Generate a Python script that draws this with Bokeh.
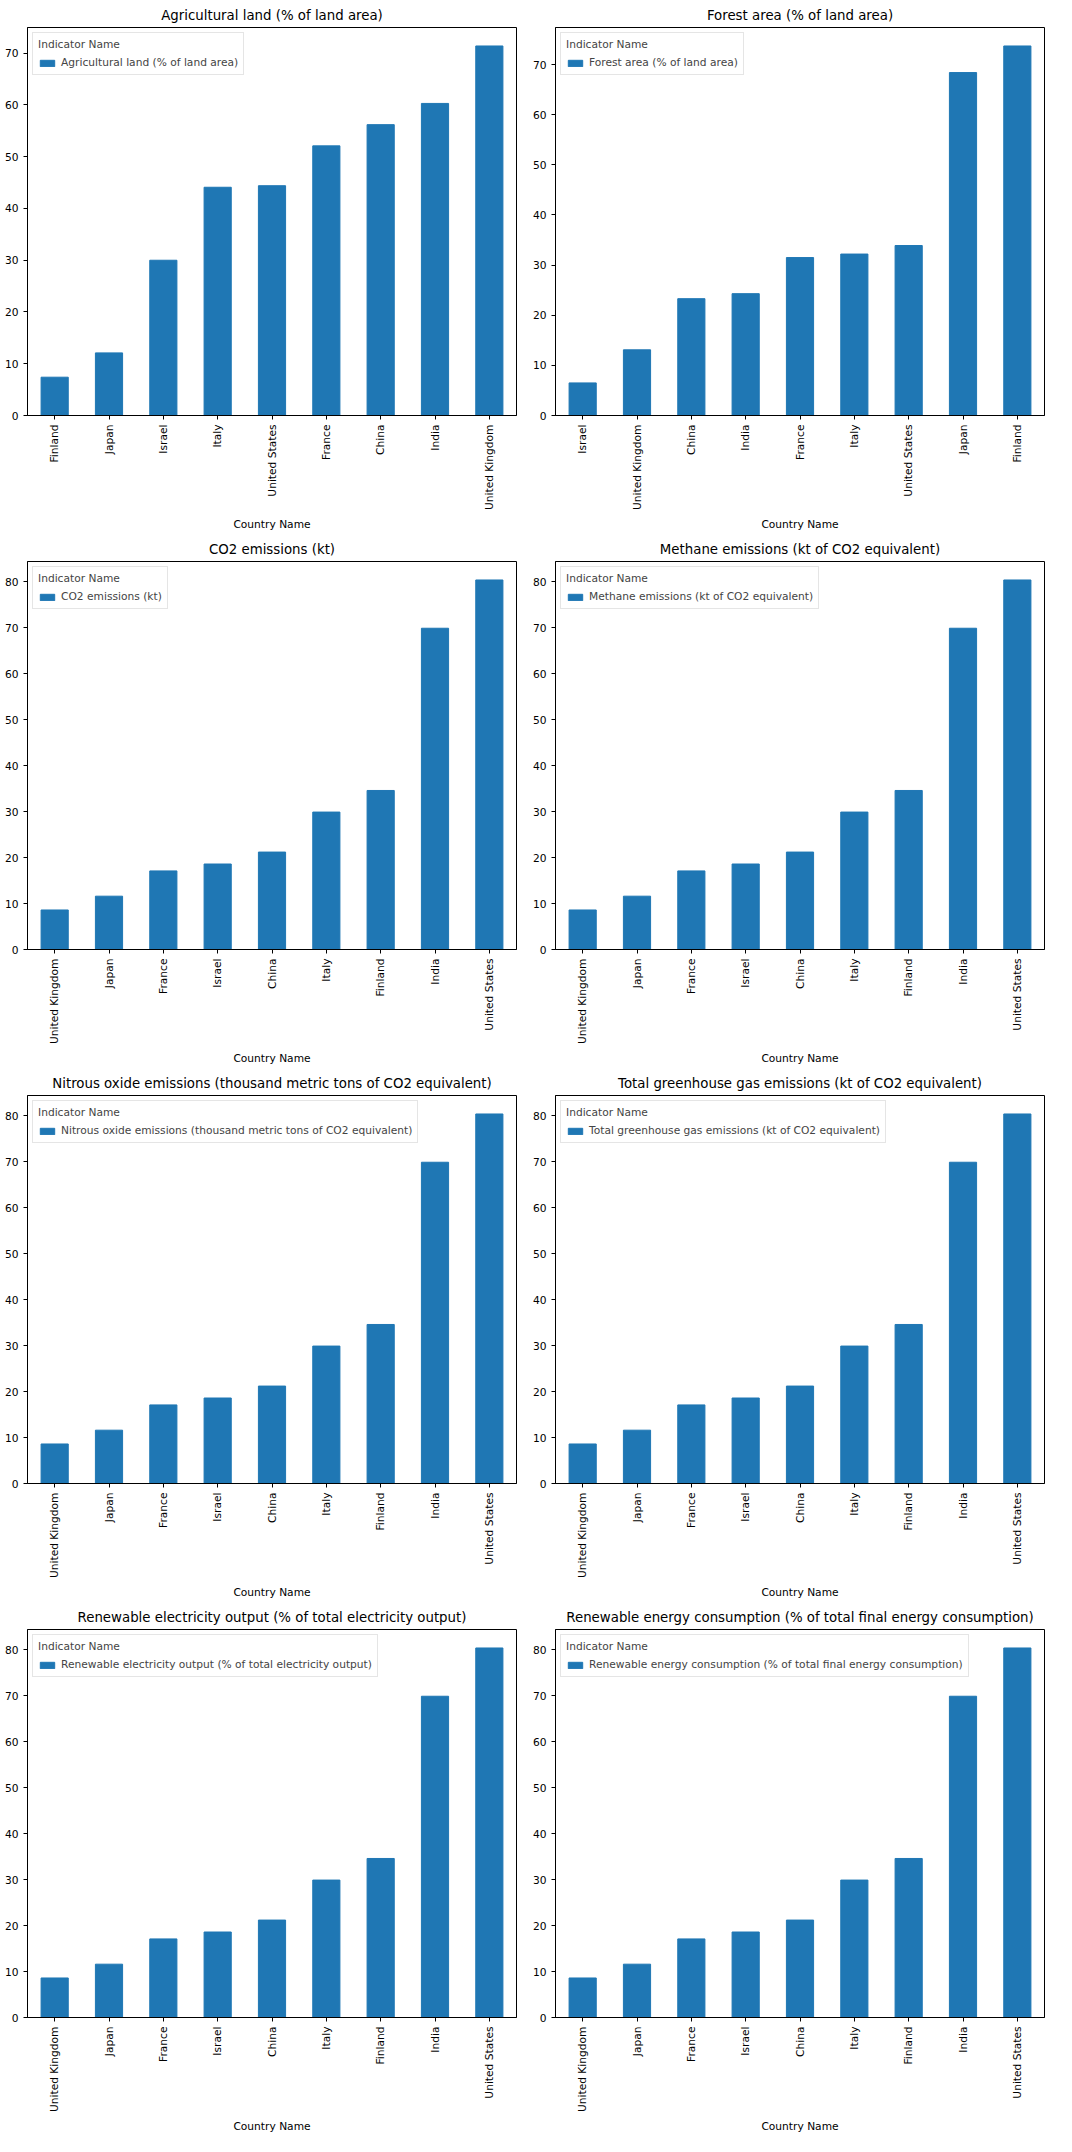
from bokeh.plotting import figure
from bokeh.layouts import gridplot
from bokeh.models import ColumnDataSource, FactorRange, Range1d, Legend, LegendItem, SingleIntervalTicker
from bokeh.embed import file_html
from bokeh.resources import INLINE

titles = [
    "Agricultural land (% of land area)",
    "Forest area (% of land area)",
    "CO2 emissions (kt)",
    "Methane emissions (kt of CO2 equivalent)",
    "Nitrous oxide emissions (thousand metric tons of CO2 equivalent)",
    "Total greenhouse gas emissions (kt of CO2 equivalent)",
    "Renewable electricity output (% of total electricity output)",
    "Renewable energy consumption (% of total final energy consumption)",
]

agri_countries = ["Finland", "Japan", "Israel", "Italy", "United States", "France", "China", "India", "United Kingdom"]
agri_values = [7.4, 12.1, 30.0, 44.1, 44.4, 52.1, 56.2, 60.3, 71.4]

forest_countries = ["Israel", "United Kingdom", "China", "India", "France", "Italy", "United States", "Japan", "Finland"]
forest_values = [6.5, 13.1, 23.3, 24.3, 31.5, 32.2, 33.9, 68.4, 73.7]

other_countries = ["United Kingdom", "Japan", "France", "Israel", "China", "Italy", "Finland", "India", "United States"]
other_values = [8.6, 11.6, 17.1, 18.6, 21.2, 29.9, 34.6, 69.9, 80.4]

data = [(agri_countries, agri_values), (forest_countries, forest_values)] + [(other_countries, other_values)] * 6

FONT = "DejaVu Sans"
figs = []
for title, (countries, values) in zip(titles, data):
    src = ColumnDataSource(dict(x=countries, top=values))
    p = figure(x_range=FactorRange(*countries, range_padding=0),
               y_range=Range1d(0, max(values) * 1.05),
               width=528, height=534, output_backend="svg", toolbar_location=None,
               title=title, min_border_left=27, min_border_right=12)
    r = p.vbar(x="x", top="top", width=0.5, source=src, color="#1f77b4")
    p.title.align = "center"
    p.title.text_font = FONT
    p.title.text_font_size = "10pt"
    p.title.text_font_style = "normal"
    p.title.text_color = "black"
    p.xgrid.visible = False
    p.ygrid.visible = False
    p.outline_line_color = "black"
    p.xaxis.axis_label = "Country Name"
    p.xaxis.major_label_orientation = 1.5708
    p.yaxis.ticker = SingleIntervalTicker(interval=10)
    for ax in (p.xaxis, p.yaxis):
        ax.axis_label_text_font = FONT
        ax.axis_label_text_font_style = "normal"
        ax.axis_label_text_font_size = "8pt"
        ax.axis_label_text_color = "black"
        ax.major_label_text_font = FONT
        ax.major_label_text_font_size = "8pt"
        ax.major_label_text_color = "black"
        ax.minor_tick_line_color = None
        ax.axis_line_color = "black"
        ax.major_tick_out = 4
        ax.major_tick_in = 0
    leg = Legend(items=[LegendItem(label=title, renderers=[r])], location="top_left",
                 title="Indicator Name", title_text_font=FONT, title_text_font_size="8pt",
                 title_text_font_style="normal", label_text_font=FONT, label_text_font_size="8pt",
                 border_line_color="#cccccc", glyph_height=8, glyph_width=18, padding=5, spacing=2,
                 margin=5, label_height=12)
    p.add_layout(leg)
    figs.append(p)

grid = gridplot(figs, ncols=2, toolbar_location=None)
open("out.html", "w").write(file_html(grid, INLINE))
